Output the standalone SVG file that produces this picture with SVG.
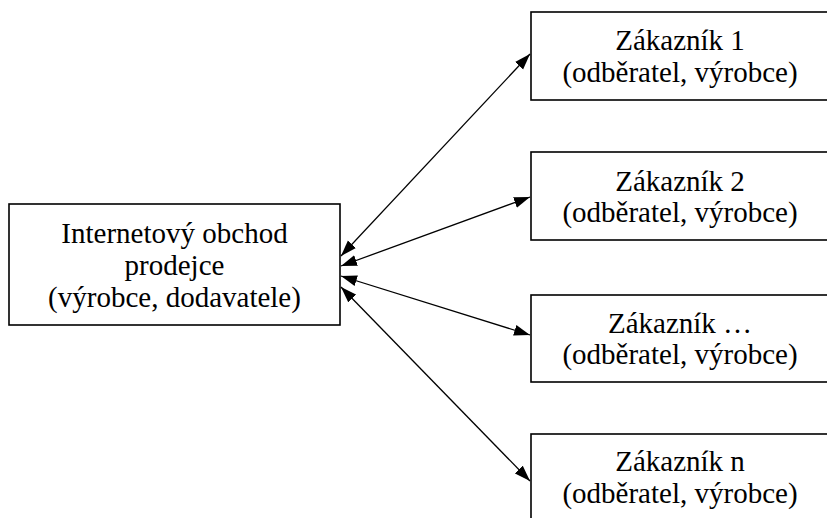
<svg xmlns="http://www.w3.org/2000/svg" width="827" height="518" viewBox="0 0 827 518">
  <style>
    .box { fill: #ffffff; stroke: #000000; stroke-width: 1.6; }
    .label { font-family: 'Liberation Serif', Tinos, 'Times New Roman', 'Nimbus Roman', 'DejaVu Serif', serif; font-size: 29px; fill: #000000; text-anchor: middle; }
    .link { stroke: #000000; stroke-width: 1.3; fill: none; marker-start: url(#head); marker-end: url(#head); }
  </style>
  <defs>
    <marker id="head" markerUnits="userSpaceOnUse" markerWidth="17" markerHeight="12" refX="16" refY="5.5" orient="auto-start-reverse">
      <path d="M0,0 L16,5.5 L0,11 z" fill="#000000"/>
    </marker>
  </defs>
  <rect width="827" height="518" fill="#ffffff"/>

  <g id="shop">
    <rect class="box" x="9" y="204" width="331" height="121"/>
    <text class="label" x="174.5" y="243">Internetový obchod</text>
    <text class="label" x="174.5" y="275">prodejce</text>
    <text class="label" x="174.5" y="307">(výrobce, dodavatele)</text>
  </g>

  <g id="customer-1">
    <rect class="box" x="531" y="12" width="298" height="88"/>
    <text class="label" x="680" y="50">Zákazník 1</text>
    <text class="label" x="680" y="82">(odběratel, výrobce)</text>
  </g>

  <g id="customer-2">
    <rect class="box" x="531" y="152" width="298" height="88"/>
    <text class="label" x="680" y="191">Zákazník 2</text>
    <text class="label" x="680" y="222">(odběratel, výrobce)</text>
  </g>

  <g id="customer-etc">
    <rect class="box" x="531" y="295" width="298" height="87"/>
    <text class="label" x="680" y="333">Zákazník …</text>
    <text class="label" x="680" y="364">(odběratel, výrobce)</text>
  </g>

  <g id="customer-n">
    <rect class="box" x="531" y="434" width="298" height="100"/>
    <text class="label" x="680" y="471">Zákazník n</text>
    <text class="label" x="680" y="503">(odběratel, výrobce)</text>
  </g>

  <g id="connectors">
    <line class="link" x1="341" y1="256" x2="530" y2="54"/>
    <line class="link" x1="341" y1="266" x2="530" y2="197"/>
    <line class="link" x1="341" y1="276" x2="530" y2="335"/>
    <line class="link" x1="341" y1="287" x2="530" y2="481"/>
  </g>
</svg>
